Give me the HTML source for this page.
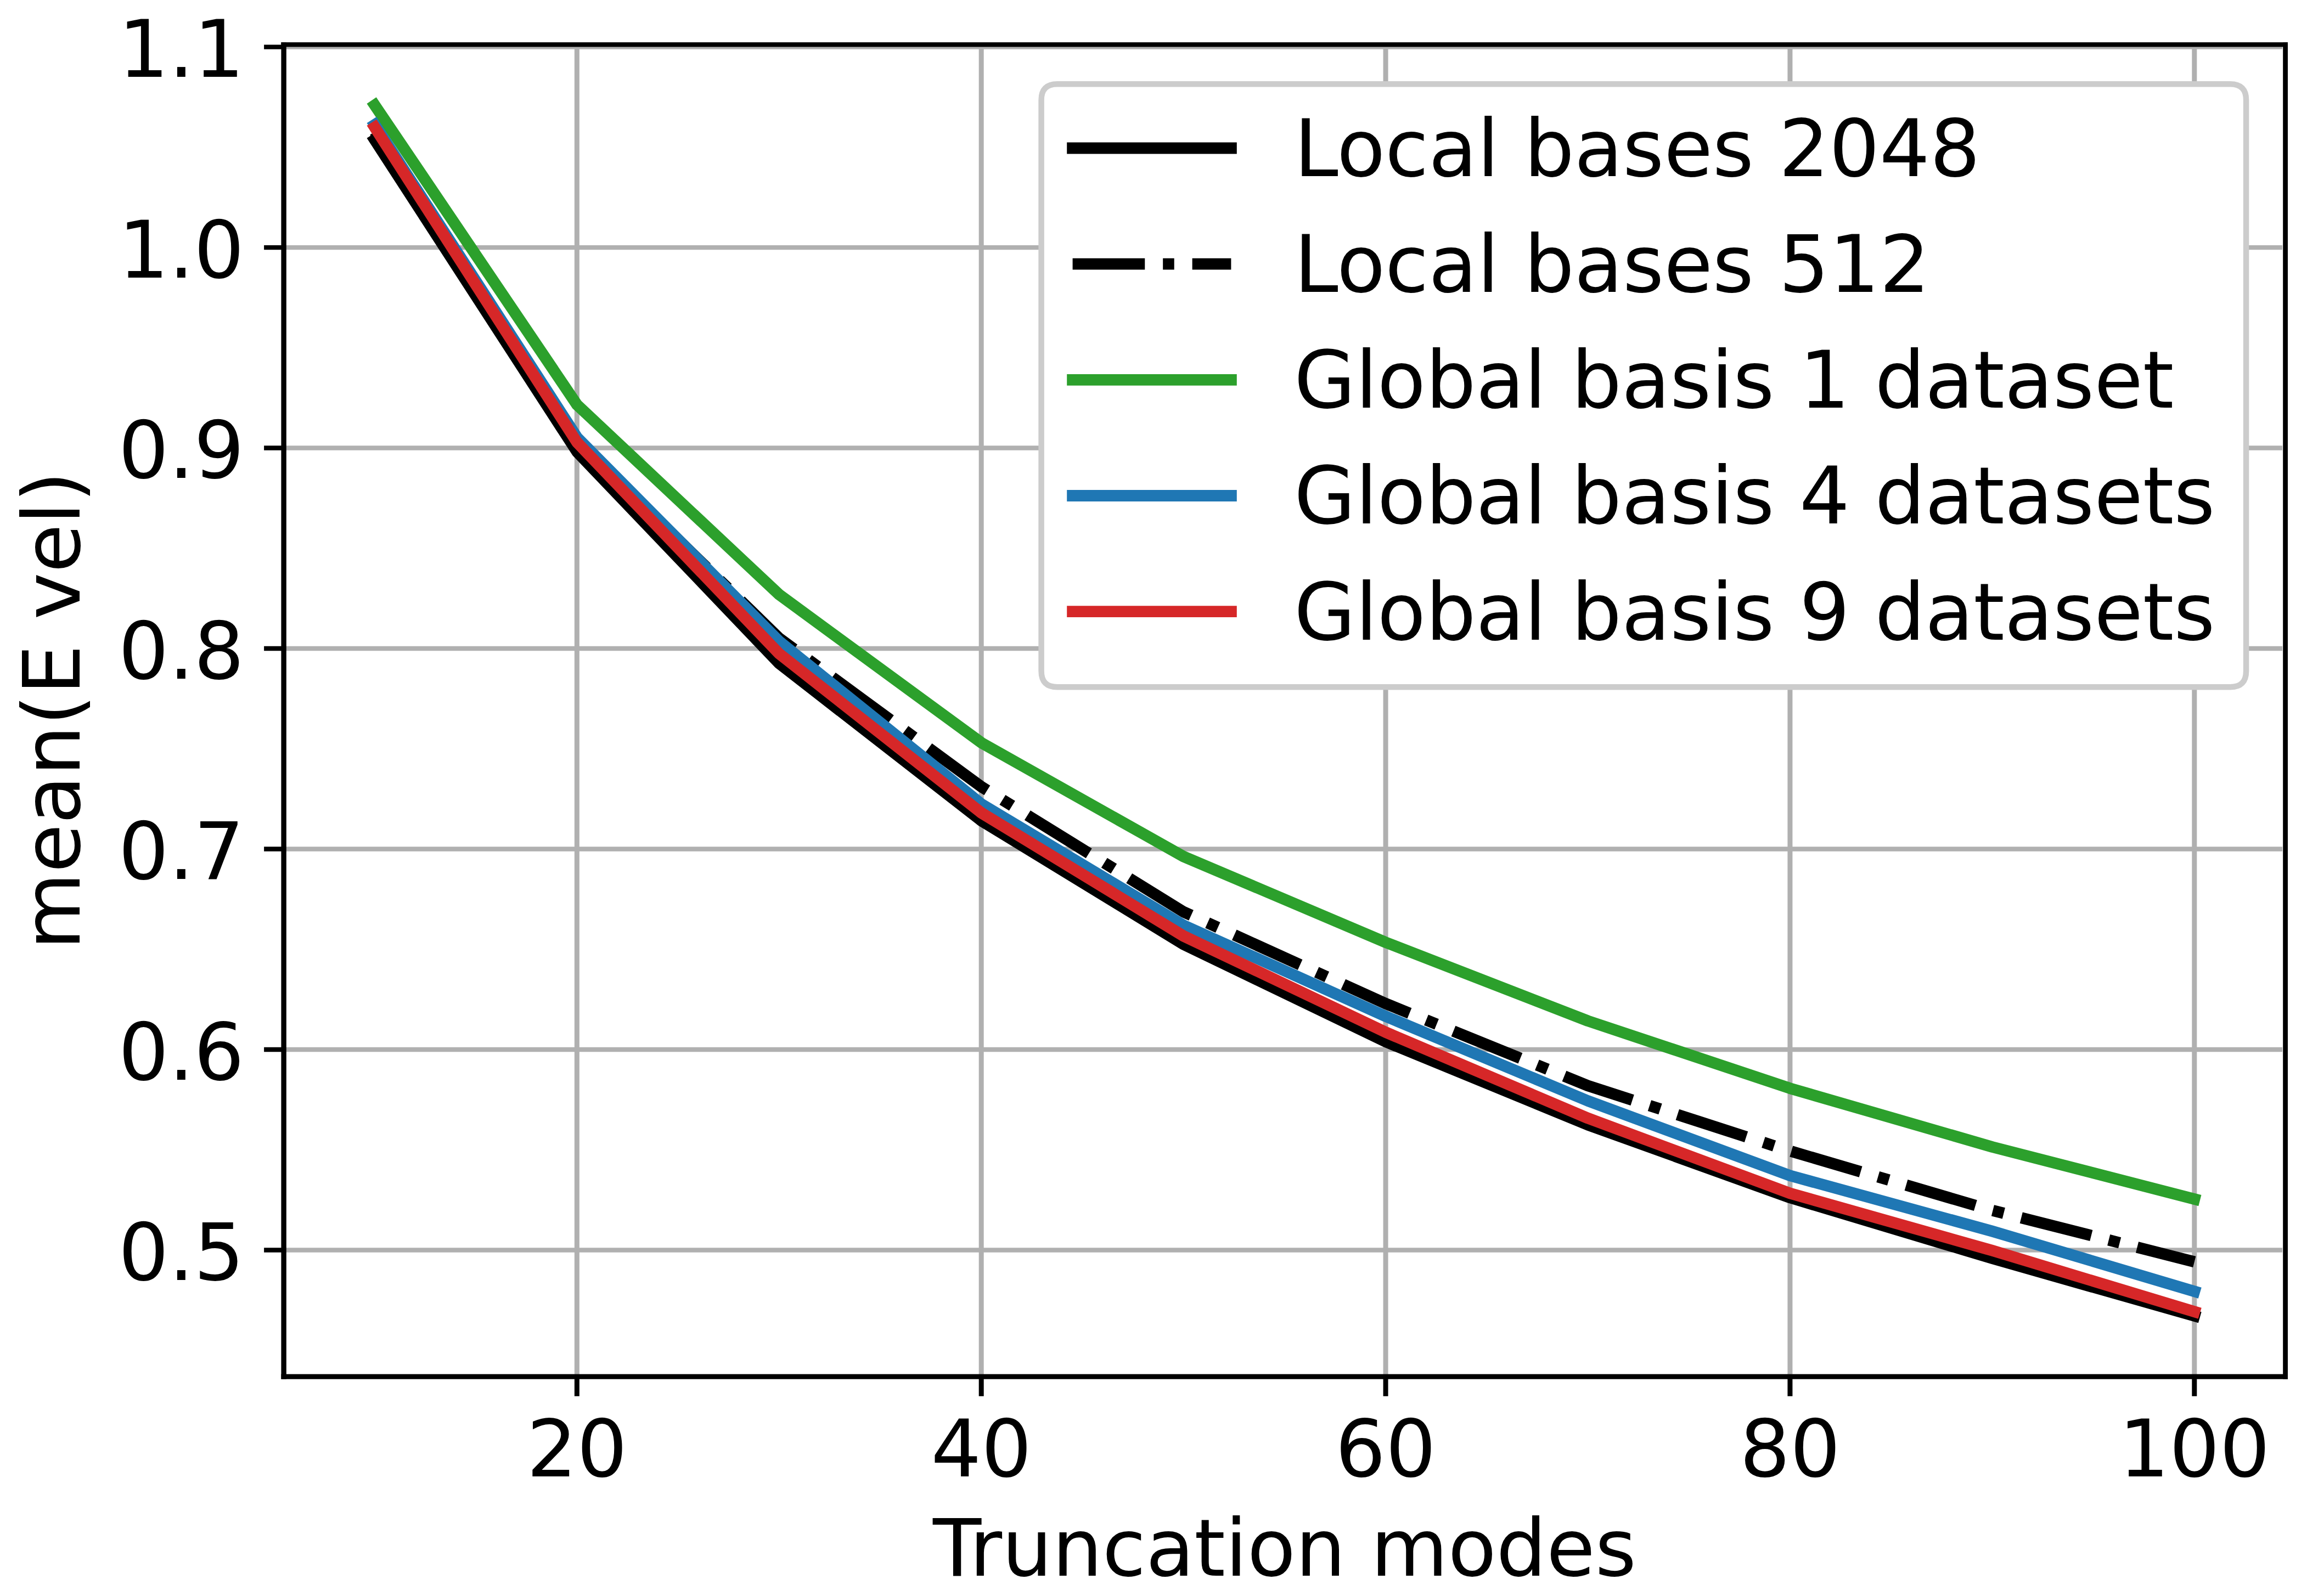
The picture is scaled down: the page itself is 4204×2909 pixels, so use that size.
<!DOCTYPE html>
<html lang="en"><head><meta charset="utf-8"><title>mean(E vel) vs Truncation modes</title>
<style>html,body{margin:0;padding:0;background:#fff}body{width:4204px;height:2909px;overflow:hidden}svg{display:block}text{font-family:"DejaVu Sans","Liberation Sans",sans-serif;font-size:144.4px;fill:#000;letter-spacing:-0.16px}</style></head><body>
<svg width="4204" height="2909" viewBox="0 0 4204 2909">
<rect x="0" y="0" width="4204" height="2909" fill="#ffffff"/>
<g stroke="#b0b0b0" fill="none">
<line x1="1051.33" y1="81.30" x2="1051.33" y2="2509.15" stroke-width="9.00"/>
<line x1="1788.20" y1="81.30" x2="1788.20" y2="2509.15" stroke-width="9.00"/>
<line x1="2525.07" y1="81.30" x2="2525.07" y2="2509.15" stroke-width="9.00"/>
<line x1="3261.94" y1="81.30" x2="3261.94" y2="2509.15" stroke-width="9.00"/>
<line x1="3998.80" y1="81.30" x2="3998.80" y2="2509.15" stroke-width="9.00"/>
<line x1="517.10" y1="85.60" x2="4159.10" y2="85.60" stroke-width="8.40"/>
<line x1="517.10" y1="451.08" x2="4159.10" y2="451.08" stroke-width="8.40"/>
<line x1="517.10" y1="816.56" x2="4159.10" y2="816.56" stroke-width="8.40"/>
<line x1="517.10" y1="1182.04" x2="4159.10" y2="1182.04" stroke-width="8.40"/>
<line x1="517.10" y1="1547.52" x2="4159.10" y2="1547.52" stroke-width="8.40"/>
<line x1="517.10" y1="1913.00" x2="4159.10" y2="1913.00" stroke-width="8.40"/>
<line x1="517.10" y1="2278.48" x2="4159.10" y2="2278.48" stroke-width="8.40"/>
</g>
<g stroke="#000" fill="none">
<line x1="1051.33" y1="2509.15" x2="1051.33" y2="2544.80" stroke-width="9.00"/>
<line x1="1788.20" y1="2509.15" x2="1788.20" y2="2544.80" stroke-width="9.00"/>
<line x1="2525.07" y1="2509.15" x2="2525.07" y2="2544.80" stroke-width="9.00"/>
<line x1="3261.94" y1="2509.15" x2="3261.94" y2="2544.80" stroke-width="9.00"/>
<line x1="3998.80" y1="2509.15" x2="3998.80" y2="2544.80" stroke-width="9.00"/>
<line x1="517.10" y1="85.60" x2="481.10" y2="85.60" stroke-width="8.40"/>
<line x1="517.10" y1="451.08" x2="481.10" y2="451.08" stroke-width="8.40"/>
<line x1="517.10" y1="816.56" x2="481.10" y2="816.56" stroke-width="8.40"/>
<line x1="517.10" y1="1182.04" x2="481.10" y2="1182.04" stroke-width="8.40"/>
<line x1="517.10" y1="1547.52" x2="481.10" y2="1547.52" stroke-width="8.40"/>
<line x1="517.10" y1="1913.00" x2="481.10" y2="1913.00" stroke-width="8.40"/>
<line x1="517.10" y1="2278.48" x2="481.10" y2="2278.48" stroke-width="8.40"/>
</g>
<g fill="none" stroke-width="20.80" stroke-linejoin="round">
<polyline stroke="#000000" stroke-linecap="square" points="682.90,254.90 1051.33,823.20 1419.76,1209.00 1788.20,1495.80 2156.63,1721.10 2525.07,1898.70 2893.50,2050.20 3261.94,2182.90 3630.37,2293.60 3998.80,2398.50"/>
<polyline stroke="#000000" stroke-linecap="butt" stroke-dasharray="131.65 32.91 20.57 32.91" points="682.90,240.00 1051.33,803.50 1419.76,1163.15 1788.20,1433.90 2156.63,1662.00 2525.07,1829.20 2893.50,1978.80 3261.94,2097.90 3630.37,2206.10 3998.80,2299.90"/>
<polyline stroke="#2ca02c" stroke-linecap="square" points="682.90,191.70 1051.33,737.60 1419.76,1083.70 1788.20,1353.70 2156.63,1561.10 2525.07,1717.60 2893.50,1860.75 3261.94,1983.70 3630.37,2090.50 3998.80,2185.50"/>
<polyline stroke="#1f77b4" stroke-linecap="square" points="682.90,227.40 1051.33,797.00 1419.76,1168.75 1788.20,1465.30 2156.63,1686.40 2525.07,1852.40 2893.50,2006.50 3261.94,2142.80 3630.37,2244.10 3998.80,2353.80"/>
<polyline stroke="#d62728" stroke-linecap="square" points="682.90,232.10 1051.33,806.00 1419.76,1191.40 1788.20,1481.50 2156.63,1706.00 2525.07,1881.40 2893.50,2038.10 3261.94,2175.00 3630.37,2279.30 3998.80,2390.75"/>
</g>
<g fill="#000">
<rect x="512.40" y="77.10" width="3656.60" height="8.40"/>
<rect x="512.40" y="2504.60" width="3656.60" height="9.10"/>
<rect x="512.40" y="77.10" width="9.40" height="2436.60"/>
<rect x="4160.20" y="77.10" width="8.80" height="2436.60"/>
</g>
<text x="1051.33" y="2690.9" text-anchor="middle">20</text>
<text x="1788.20" y="2690.9" text-anchor="middle">40</text>
<text x="2525.07" y="2690.9" text-anchor="middle">60</text>
<text x="3261.94" y="2690.9" text-anchor="middle">80</text>
<text x="3998.80" y="2690.9" text-anchor="middle">100</text>
<text x="444.9" y="140.30" text-anchor="end">1.1</text>
<text x="444.9" y="505.78" text-anchor="end">1.0</text>
<text x="444.9" y="871.26" text-anchor="end">0.9</text>
<text x="444.9" y="1236.74" text-anchor="end">0.8</text>
<text x="444.9" y="1602.22" text-anchor="end">0.7</text>
<text x="444.9" y="1967.70" text-anchor="end">0.6</text>
<text x="444.9" y="2333.18" text-anchor="end">0.5</text>
<text x="2340.9" y="2871.8" text-anchor="middle">Truncation modes</text>
<text transform="translate(144.8,1295.2) rotate(-90)" text-anchor="middle">mean(E vel)</text>
<path d="M1926.60,153.30 L4064.10,153.30 Q4093.10,153.30 4093.10,182.30 L4093.10,1223.30 Q4093.10,1252.30 4064.10,1252.30 L1926.60,1252.30 Q1897.60,1252.30 1897.60,1223.30 L1897.60,182.30 Q1897.60,153.30 1926.60,153.30 Z" fill="#ffffff" stroke="#cccccc" stroke-width="10.5" stroke-linejoin="miter"/>
<line x1="1954.60" y1="270.00" x2="2243.40" y2="270.00" stroke="#000000" stroke-width="20.80" stroke-linecap="square"/>
<text x="2358.2" y="320.70">Local bases 2048</text>
<line x1="1954.60" y1="481.20" x2="2243.40" y2="481.20" stroke="#000000" stroke-width="20.80" stroke-linecap="butt" stroke-dasharray="131.65 32.91 20.57 32.91"/>
<text x="2358.2" y="531.90">Local bases 512</text>
<line x1="1954.60" y1="692.40" x2="2243.40" y2="692.40" stroke="#2ca02c" stroke-width="20.80" stroke-linecap="square"/>
<text x="2358.2" y="743.10">Global basis 1 dataset</text>
<line x1="1954.60" y1="903.50" x2="2243.40" y2="903.50" stroke="#1f77b4" stroke-width="20.80" stroke-linecap="square"/>
<text x="2358.2" y="954.30">Global basis 4 datasets</text>
<line x1="1954.60" y1="1114.70" x2="2243.40" y2="1114.70" stroke="#d62728" stroke-width="20.80" stroke-linecap="square"/>
<text x="2358.2" y="1165.50">Global basis 9 datasets</text>
</svg></body></html>
